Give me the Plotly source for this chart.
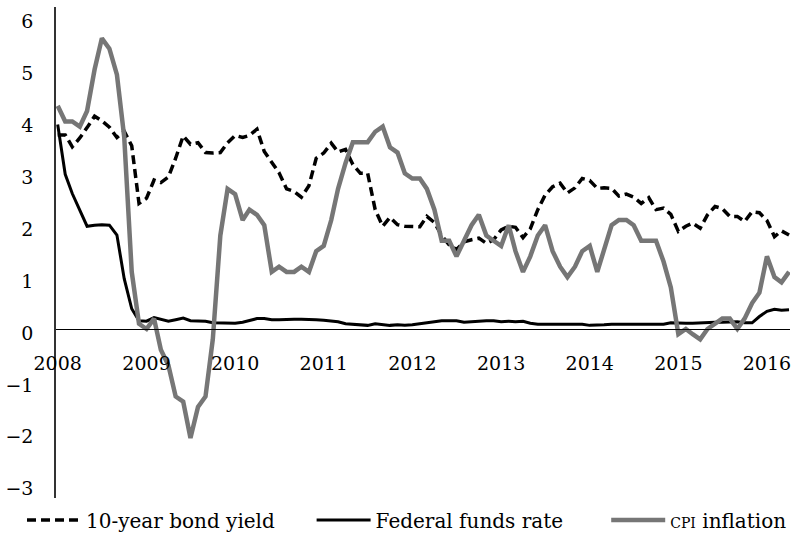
import pandas as pd
import plotly.graph_objects as go

# Monthly observations, Jan 2008 - Apr 2016
months = pd.date_range("2008-01-01", "2016-04-01", freq="MS")

bond_yield = [
    3.74, 3.74, 3.51, 3.68, 3.88, 4.10, 4.01, 3.89, 3.69, 3.81, 3.53, 2.42,
    2.52, 2.87, 2.82, 2.93, 3.29, 3.72, 3.56, 3.59, 3.40, 3.39, 3.40, 3.59,
    3.73, 3.69, 3.73, 3.85, 3.42, 3.20, 3.01, 2.70, 2.65, 2.54, 2.76, 3.29,
    3.39, 3.58, 3.41, 3.46, 3.17, 3.00, 3.00, 2.30, 1.98, 2.15, 2.01, 1.98,
    1.97, 1.97, 2.17, 2.05, 1.80, 1.62, 1.53, 1.68, 1.72, 1.75, 1.65, 1.72,
    1.91, 1.98, 1.96, 1.76, 1.93, 2.30, 2.58, 2.74, 2.81, 2.62, 2.72, 2.90,
    2.86, 2.71, 2.72, 2.71, 2.56, 2.60, 2.54, 2.42, 2.53, 2.30, 2.33, 2.21,
    1.88, 1.98, 2.04, 1.94, 2.20, 2.36, 2.32, 2.17, 2.17, 2.07, 2.26, 2.24,
    2.09, 1.78, 1.89, 1.81,
]

fed_funds = [
    3.94, 2.98, 2.61, 2.28, 1.98, 2.00, 2.01, 2.00, 1.81, 0.97, 0.39, 0.16,
    0.15, 0.22, 0.18, 0.15, 0.18, 0.21, 0.16, 0.16, 0.15, 0.12, 0.12, 0.12,
    0.11, 0.13, 0.16, 0.20, 0.20, 0.18, 0.18, 0.19, 0.19, 0.19, 0.19, 0.18,
    0.17, 0.16, 0.14, 0.10, 0.09, 0.09, 0.07, 0.10, 0.08, 0.07, 0.08, 0.07,
    0.08, 0.10, 0.13, 0.14, 0.16, 0.16, 0.16, 0.13, 0.14, 0.16, 0.16, 0.16,
    0.14, 0.15, 0.14, 0.15, 0.11, 0.09, 0.09, 0.08, 0.08, 0.09, 0.08, 0.09,
    0.07, 0.07, 0.08, 0.09, 0.09, 0.10, 0.09, 0.09, 0.09, 0.09, 0.09, 0.12,
    0.11, 0.11, 0.11, 0.12, 0.12, 0.13, 0.13, 0.14, 0.14, 0.12, 0.12, 0.24,
    0.34, 0.38, 0.36, 0.37,
]

cpi_inflation = [
    4.3, 4.0, 4.0, 3.9, 4.2, 5.0, 5.6, 5.4, 4.9, 3.7, 1.1, 0.1,
    0.0, 0.2, -0.4, -0.7, -1.3, -1.4, -2.1, -1.5, -1.3, -0.2, 1.8, 2.7,
    2.6, 2.1, 2.3, 2.2, 2.0, 1.1, 1.2, 1.1, 1.1, 1.2, 1.1, 1.5,
    1.6, 2.1, 2.7, 3.2, 3.6, 3.6, 3.6, 3.8, 3.9, 3.5, 3.4, 3.0,
    2.9, 2.9, 2.7, 2.3, 1.7, 1.7, 1.4, 1.7, 2.0, 2.2, 1.8, 1.7,
    1.6, 2.0, 1.5, 1.1, 1.4, 1.8, 2.0, 1.5, 1.2, 1.0, 1.2, 1.5,
    1.6, 1.1, 1.5, 2.0, 2.1, 2.1, 2.0, 1.7, 1.7, 1.7, 1.3, 0.8,
    -0.1, 0.0, -0.1, -0.2, 0.0, 0.1, 0.2, 0.2, 0.0, 0.2, 0.5, 0.7,
    1.4, 1.0, 0.9, 1.1,
]

year_ticks = ["2008", "2009", "2010", "2011", "2012", "2013", "2014", "2015", "2016"]
y_ticks = [-3, -2, -1, 0, 1, 2, 3, 4, 5, 6]

series_names = [
    "10-year bond yield",
    "Federal funds rate",
    '<span style="font-size:14px">CPI</span> inflation',
]

FONT = "DejaVu Serif, Liberation Serif, serif"
NB = "\u00a0"

fig = go.Figure()
fig.add_trace(go.Scatter(
    x=months, y=bond_yield, mode="lines", name=series_names[0] + NB * 5,
    line=dict(color="#000000", width=3.5, dash="9px,5px"),
))
fig.add_trace(go.Scatter(
    x=months, y=fed_funds, mode="lines", name=series_names[1] + NB * 6,
    line=dict(color="#000000", width=3),
))
fig.add_trace(go.Scatter(
    x=months, y=cpi_inflation, mode="lines", name=series_names[2],
    line=dict(color="#767676", width=4.5),
))

y_min, y_max = -3.256, 6.204
zero_pos = -y_min / (y_max - y_min)

fig.update_layout(
    width=800, height=547,
    margin=dict(l=56, r=10, t=7, b=49),
    paper_bgcolor="white", plot_bgcolor="white",
    font=dict(family=FONT, size=19, color="#000000"),
    showlegend=True,
    legend=dict(
        orientation="h",
        x=-0.0463, xanchor="left", y=-0.005, yanchor="top",
        font=dict(family=FONT, size=20), itemwidth=54, tracegroupgap=0,
        bgcolor="rgba(0,0,0,0)",
    ),
    xaxis=dict(
        range=["2007-12-25", "2016-04-05"],
        tickvals=[f"{y}-01-01" for y in year_ticks], ticktext=year_ticks,
        showgrid=False, zeroline=False, showline=True, linecolor="#000000",
        linewidth=1.2, ticks="", anchor="free", position=zero_pos,
        ticklabelstandoff=17, automargin=False, ticklabeloverflow="allow",
        tickfont=dict(family=FONT, size=19),
    ),
    yaxis=dict(
        range=[y_min, y_max], tickvals=y_ticks,
        showgrid=False, zeroline=False, showline=True, linecolor="#333333",
        linewidth=1.5, ticks="", ticklabelstandoff=17, ticklabelshift=4,
        automargin=False, tickfont=dict(family=FONT, size=19),
    ),
)

fig.write_html(
    "out.html",
    config={"displayModeBar": False},
    post_script="document.body.style.margin='0px';",
)
